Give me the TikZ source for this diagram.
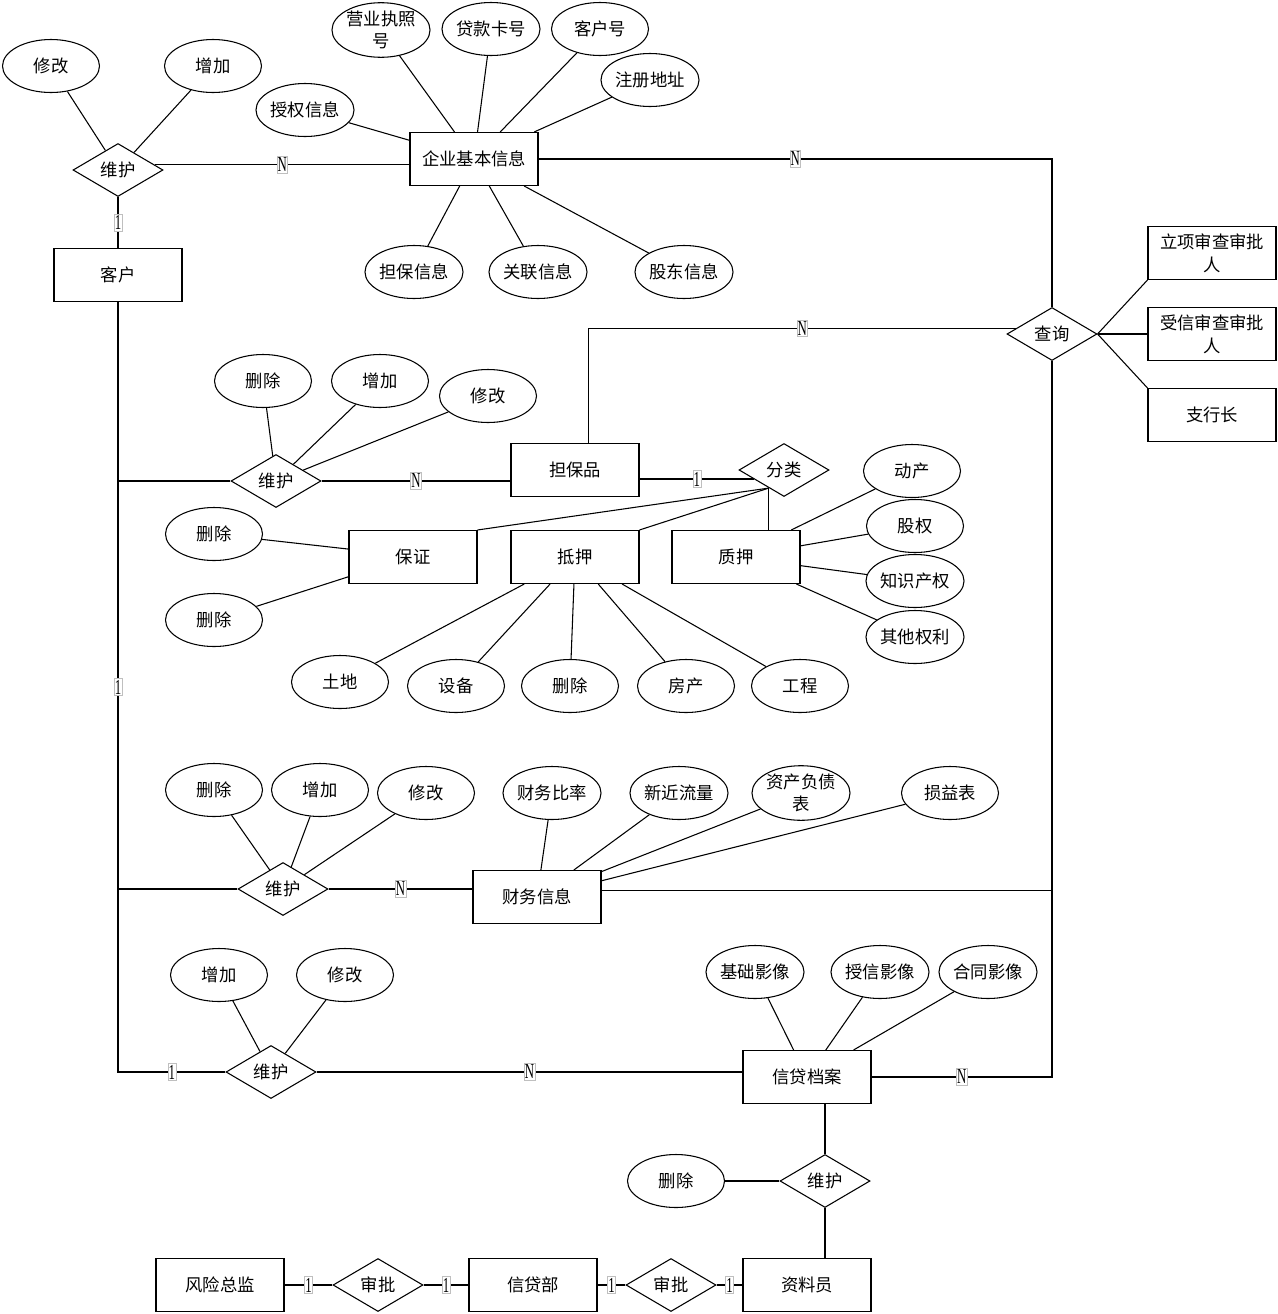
\documentclass[tikz,border=0pt]{standalone}
\usepackage{fontspec}
\setmainfont{Noto Sans CJK SC}
\newfontfamily\labfont[FakeStretch=0.6]{Liberation Serif}
\usetikzlibrary{shapes.geometric}

\begin{document}
\begin{tikzpicture}[x=0.75pt, y=-0.75pt, line width=0.8pt,
  every node/.style={font=\fontsize{13}{17}\selectfont},
  attr/.style={draw, ellipse, inner sep=0pt, minimum width=72.75pt, minimum height=39.75pt, align=center},
  ent/.style={draw, rectangle, inner sep=2pt, minimum width=96pt, minimum height=39.75pt, align=center},
  rel/.style={draw, diamond, inner sep=0pt, aspect=1.7, minimum width=67.5pt, minimum height=39.75pt},
  card/.style={draw=black!25, fill=white, line width=0.3pt, inner xsep=0.6pt, inner ysep=1pt, font=\labfont\fontsize{16}{16}\selectfont}]
  \useasboundingbox (0,0) rectangle (1278,1314);

  \node[ent] (qy) at (474,159) {企业基本信息};
  \node[attr] (yyzz) at (381,30) {营业执照\\号};
  \node[attr] (dkkh) at (491,29) {贷款卡号};
  \node[attr] (khh) at (600,29) {客户号};
  \node[attr] (zcdz) at (650,80) {注册地址};
  \node[attr] (sqxx) at (305,110) {授权信息};
  \node[attr] (dbxx) at (414,272) {担保信息};
  \node[attr] (glxx) at (538,272) {关联信息};
  \node[attr] (gdxx) at (684,272) {股东信息};
  \foreach \a in {yyzz,dkkh,khh,zcdz,sqxx,dbxx,glxx,gdxx}
    \draw (qy) -- (\a);

  \node[rel] (wh1) at (118,170) {维护};
  \node[attr] (xg1) at (51,66) {修改};
  \node[attr] (zj1) at (213,66) {增加};
  \node[ent] (kh) at (118,275) {客户};
  \draw (wh1) -- (xg1);
  \draw (wh1) -- (zj1);
  \draw (wh1) -- node[card]{1} (kh);
  \draw (wh1.8) -- node[card]{N} (wh1.8 -| qy.west);

  \node[rel] (cx) at (1052,334) {查询};
  \node[ent] (lx) at (1212,253) {立项审查审批\\人};
  \node[ent] (sx) at (1212,334) {受信审查审批\\人};
  \node[ent] (zh) at (1212,415) {支行长};
  \draw (cx.east) -- (lx.south west);
  \draw (cx.east) -- (sx.west);
  \draw (cx.east) -- (zh.north west);
  \draw (qy.east) -| node[card, pos=0.25]{N} (cx.north);

  \node[ent] (dbp) at (575,470) {担保品};
  \draw (cx.171) -| node[card, pos=0.25]{N} ([xshift=10pt]dbp.north);

  \node[rel] (wh2) at (276,481) {维护};
  \node[attr] (sc2) at (263,381) {删除};
  \node[attr] (zj2) at (380,381) {增加};
  \node[attr] (xg2) at (488,396) {修改};
  \foreach \a in {sc2,zj2,xg2}
    \draw (wh2) -- (\a);
  \draw (kh.south |- wh2.west) -- (wh2.west);
  \draw (wh2.east) -- node[card]{N} (wh2.east -| dbp.west);

  \node[rel] (fl) at (784,470) {分类};
  \draw ([yshift=-6.75pt]dbp.east) -- node[card]{1} ([xshift=11.7pt,yshift=-6.75pt]fl.west);

  \node[ent] (bz) at (413,557) {保证};
  \node[ent] (dy) at (575,557) {抵押};
  \node[ent] (zy) at (736,557) {质押};
  \draw (fl.230) -- (bz.north east);
  \draw (fl.230) -- (dy.north east);
  \draw (fl.230) -- (fl.230 |- zy.north);

  \node[attr] (sc3) at (214,534) {删除};
  \node[attr] (sc4) at (214,620) {删除};
  \draw (sc3) -- (bz.173);
  \draw (sc4) -- (bz.197);

  \node[attr] (td) at (340,682) {土地};
  \node[attr] (sb) at (456,686) {设备};
  \node[attr] (sc5) at (570,686) {删除};
  \node[attr] (fc) at (686,686) {房产};
  \node[attr] (gc) at (800,686) {工程};
  \foreach \a in {td,sb,sc5,fc,gc}
    \draw (dy) -- (\a);

  \node[attr] (dc) at (912,471) {动产};
  \node[attr] (gq) at (915,526) {股权};
  \node[attr] (zscq) at (915,581) {知识产权};
  \node[attr] (qtql) at (915,637) {其他权利};
  \foreach \a in {dc,gq,zscq,qtql}
    \draw (zy) -- (\a);

  \node[rel] (wh3) at (283,889) {维护};
  \node[attr] (sc6) at (214,790) {删除};
  \node[attr] (zj3) at (320,790) {增加};
  \node[attr] (xg3) at (426,793) {修改};
  \foreach \a in {sc6,zj3,xg3}
    \draw (wh3) -- (\a);
  \draw (kh.south |- wh3.west) -- (wh3.west);

  \node[ent] (cw) at (537,897) {财务信息};
  \node[attr] (cwbl) at (552,793) {财务比率};
  \node[attr] (xjll) at (679,793) {新近流量};
  \node[attr] (zcfz) at (801,793) {资产负债\\表};
  \node[attr] (syb) at (950,793) {损益表};
  \foreach \a in {cwbl,xjll,zcfz,syb}
    \draw (cw) -- (\a);
  \draw (wh3.east) -- node[card]{N} (wh3.east -| cw.west);
  \draw (cw.6) -- (cw.6 -| cx.south);

  \node[rel] (wh4) at (271,1072) {维护};
  \node[attr] (zj4) at (219,975) {增加};
  \node[attr] (xg4) at (345,975) {修改};
  \draw (wh4) -- (zj4);
  \draw (wh4) -- (xg4);
  \draw (kh.south) |- node[card, pos=0.25]{1} node[card, pos=0.75]{1} (wh4.west);

  \node[ent] (xd) at (807,1077) {信贷档案};
  \node[attr] (jc) at (755,972) {基础影像};
  \node[attr] (sxyx) at (880,972) {授信影像};
  \node[attr] (ht) at (988,972) {合同影像};
  \foreach \a in {jc,sxyx,ht}
    \draw (xd) -- (\a);
  \draw (wh4.east) -- node[card]{N} (wh4.east -| xd.west);
  \draw (cx.south) |- node[card, pos=0.75]{N} (xd.east);

  \node[rel] (wh5) at (825,1181) {维护};
  \node[attr] (sc7) at (676,1181) {删除};
  \node[ent] (zly) at (807,1285) {资料员};
  \draw (wh5.north |- xd.south) -- (wh5.north);
  \draw (wh5.south) -- (wh5.south |- zly.north);
  \draw (sc7) -- (wh5);

  \node[ent] (fx) at (220,1285) {风险总监};
  \node[rel] (sp1) at (378,1285) {审批};
  \node[ent] (xdb) at (533,1285) {信贷部};
  \node[rel] (sp2) at (671,1285) {审批};
  \foreach \a/\b in {fx/sp1,sp1/xdb,xdb/sp2,sp2/zly}
    \draw (\a) -- node[card]{1} (\b);
\end{tikzpicture}
\end{document}
